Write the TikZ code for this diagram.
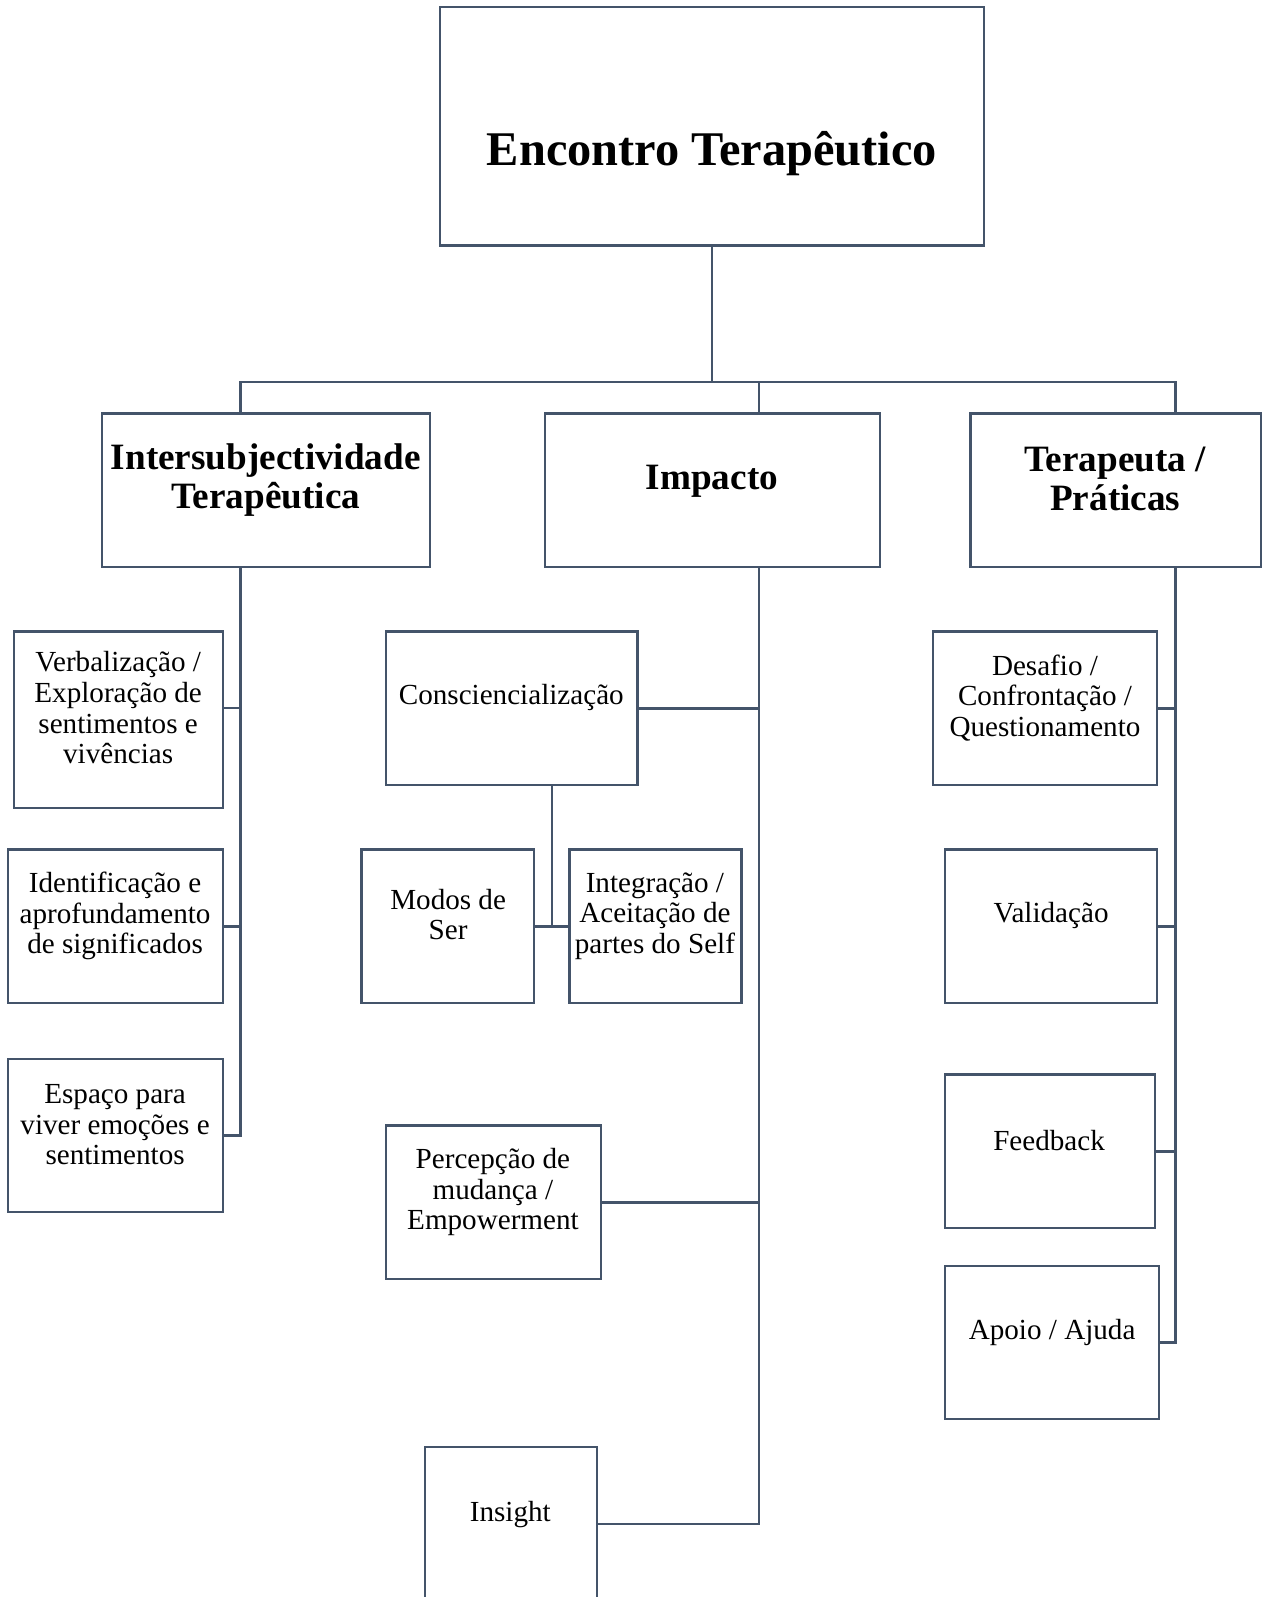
\documentclass[tikz,border=0pt]{standalone}
\usepackage{fontspec}
\setmainfont{Liberation Serif}
\definecolor{lc}{HTML}{44546A}
\begin{document}
\begin{tikzpicture}[x=1pt,y=-1pt,
  box/.style={draw=lc, line width=2.3pt, inner sep=0pt, outer sep=0pt, fill=white},
  conn/.style={draw=lc, line width=2.3pt, line cap=rect},
  txt/.style={align=center, inner sep=0pt, font=\fontsize{28.6}{30}\selectfont},
  hdr/.style={align=center, inner sep=0pt, font=\fontsize{36.5}{38}\selectfont\bfseries},
  ttl/.style={align=center, inner sep=0pt, font=\fontsize{47.5}{52}\selectfont\bfseries}]
\useasboundingbox (0,0) rectangle (1246,1568);
% coordinates of the bus
\coordinate (s1) at (236,375);
\coordinate (s2) at (745,375);
\coordinate (s3) at (1154,375);
\coordinate (j) at (542,910);
% connectors (drawn below boxes)
\begin{scope}[on background layer/.try]
\end{scope}
% boxes
\node[box, minimum width=534pt, minimum height=234pt] (top) at (699,124) {};
\node[box, minimum width=322pt, minimum height=151pt] (b1) at (261,481.5) {};
\node[box, minimum width=329pt, minimum height=151pt] (b2) at (699.5,481.5) {};
\node[box, minimum width=285pt, minimum height=151pt] (b3) at (1095.5,481.5) {};
\node[box, minimum width=205pt, minimum height=173pt] (verb) at (116.5,706.5) {};
\node[box, minimum width=211pt, minimum height=151pt] (ident) at (113.5,909.5) {};
\node[box, minimum width=211pt, minimum height=150pt] (esp) at (113.5,1115) {};
\node[box, minimum width=247pt, minimum height=151pt] (consc) at (502.5,695.5) {};
\node[box, minimum width=169pt, minimum height=151pt] (modos) at (439.5,909.5) {};
\node[box, minimum width=169pt, minimum height=151pt] (integ) at (643.5,909.5) {};
\node[box, minimum width=211pt, minimum height=151pt] (perc) at (484.5,1180.5) {};
\node[box, minimum width=169pt, minimum height=151pt] (ins) at (501.5,1496.5) {};
\node[box, minimum width=220pt, minimum height=151pt] (desaf) at (1026,695.5) {};
\node[box, minimum width=208pt, minimum height=151pt] (valid) at (1032,909.5) {};
\node[box, minimum width=206pt, minimum height=151pt] (feed) at (1031,1130.5) {};
\node[box, minimum width=210pt, minimum height=150pt] (apoio) at (1033,1318) {};
% texts
\node[ttl] (ttop) at (699,151) {Encontro Terapêutico};
\node[hdr] (tb1) at (261,471) {Intersubjectividade\\Terapêutica};
\node[hdr] (tb2) at (699,473) {Impacto};
\node[hdr] (tb3) at (1095,470) {Terapeuta /\\Práticas};
\node[txt] (tverb) at (116,695) {Verbalização /\\Exploração de\\sentimentos e\\vivências};
\node[txt] (tident) at (113,899.5) {Identificação e\\aprofundamento\\de significados};
\node[txt] (tesp) at (113,1104.5) {Espaço para\\viver emoções e\\sentimentos};
\node[txt] (tconsc) at (502,685) {Consciencialização};
\node[txt] (tmodos) at (440,898) {Modos de\\Ser};
\node[txt] (tinteg) at (643,899.5) {Integração /\\Aceitação de\\partes do Self};
\node[txt] (tperc) at (484,1170.5) {Percepção de\\mudança /\\Empowerment};
\node[txt] (tins) at (501,1487) {Insight};
\node[txt] (tdesaf) at (1026,685) {Desafio /\\Confrontação /\\Questionamento};
\node[txt] (tvalid) at (1032,899) {Validação};
\node[txt] (tfeed) at (1030,1120) {Feedback};
\node[txt] (tapoio) at (1033,1308) {Apoio / Ajuda};
% top connectors
\draw[conn] (top.south) |- (s1);
\draw[conn] (s1) -- (s3);
\draw[conn] (s1) -- (s1 |- b1.north);
\draw[conn] (s2) -- (s2 |- b2.north);
\draw[conn] (s3) -- (s3 |- b3.north);
% column 1
\draw[conn] (s1 |- b1.south) -- (s1 |- esp.east);
\draw[conn] ([yshift=11.5pt]verb.east) -- ([yshift=11.5pt]verb.east -| s1);
\draw[conn] (ident.east) -- (ident.east -| s1);
\draw[conn] (esp.east) -- (esp.east -| s1);
% column 2
\draw[conn] (s2 |- b2.south) -- (s2 |- ins.east);
\draw[conn] (consc.east) -- (consc.east -| s2);
\draw[conn] (perc.east) -- (perc.east -| s2);
\draw[conn] (ins.east) -- (ins.east -| s2);
\draw[conn] (j |- consc.south) -- (j);
\draw[conn] (modos.east) -- (integ.west);
% column 3
\draw[conn] (s3 |- b3.south) -- (s3 |- apoio.east);
\draw[conn] (desaf.east) -- (desaf.east -| s3);
\draw[conn] (valid.east) -- (valid.east -| s3);
\draw[conn] (feed.east) -- (feed.east -| s3);
\draw[conn] (apoio.east) -- (apoio.east -| s3);
\end{tikzpicture}
\end{document}
